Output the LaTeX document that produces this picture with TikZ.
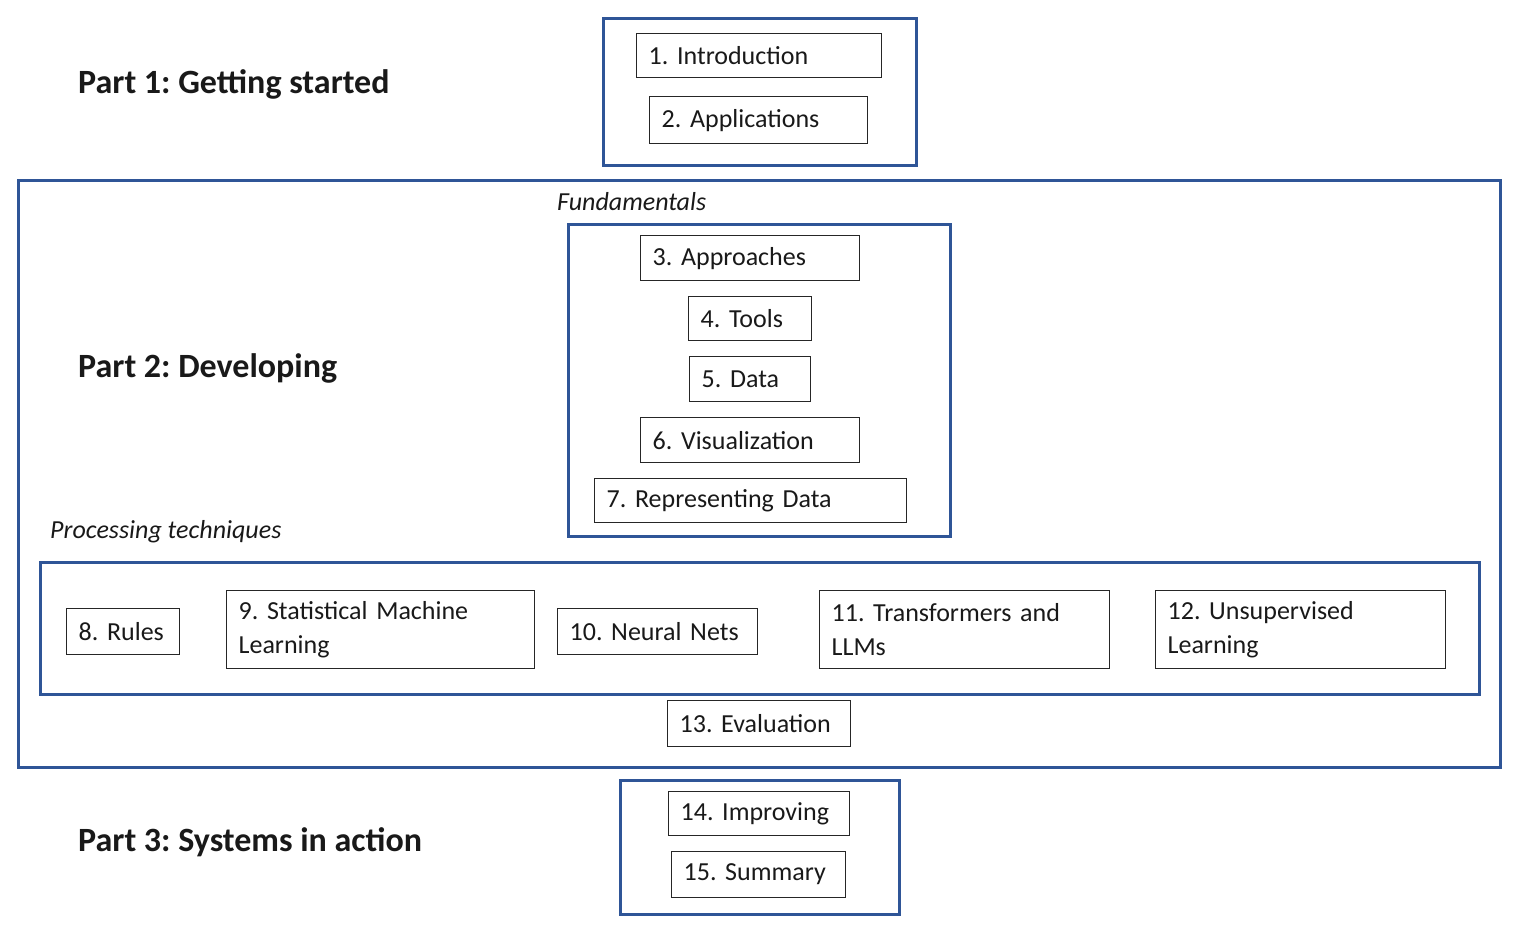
\documentclass[tikz,border=0pt]{standalone}
\usepackage{fontspec}
\setmainfont{Carlito}
\frenchspacing
\definecolor{partblue}{RGB}{47,85,151}
\definecolor{txt}{RGB}{25,25,25}
\begin{document}
\begin{tikzpicture}[x=1pt,y=-1pt,
  container/.style={draw=partblue, line width=3pt, anchor=north west, inner sep=0pt},
  chap/.style={draw=black!85, line width=1.3pt, anchor=north west, inner xsep=12pt, inner ysep=0pt, align=left, text=txt, font=\frenchspacing\fontsize{26}{34}\selectfont},
  partlabel/.style={anchor=west, inner sep=0pt, text=txt, font=\frenchspacing\fontsize{34}{40}\selectfont\bfseries},
  grouplabel/.style={anchor=west, inner sep=0pt, text=txt, font=\fontsize{26}{32}\selectfont\itshape}]
\useasboundingbox (0,0) rectangle (1515,928);
% containers
\node[container, minimum width=313pt, minimum height=147pt] (p1) at (602,17) {};
\node[container, minimum width=1482pt, minimum height=587pt] (p2) at (17,179) {};
\node[container, minimum width=382pt, minimum height=312pt] (fund) at (567,223) {};
\node[container, minimum width=1439pt, minimum height=132pt] (proc) at (39,561) {};
\node[container, minimum width=279pt, minimum height=134pt] (p3) at (619,779) {};
% labels
\node[partlabel] (l1) at (78,84) {Part 1: Getting started};
\node[partlabel] (l2) at (78,368) {Part 2: Developing};
\node[partlabel] (l3) at (78,842) {Part 3: Systems in action};
\node[grouplabel] (gf) at (557,202) {Fundamentals};
\node[grouplabel] (gp) at (50,532) {Processing techniques};
% chapters
\node[chap, text width=221pt, minimum height=44pt] (c1) at (636,33) {1. Introduction};
\node[chap, text width=194pt, minimum height=47pt] (c2) at (649,96) {2. Applications};
\node[chap, text width=195pt, minimum height=45pt] (c3) at (640,235) {3. Approaches};
\node[chap, text width=99pt, minimum height=44pt] (c4) at (688,296) {4. Tools};
\node[chap, text width=97pt, minimum height=45pt] (c5) at (689,356) {5. Data};
\node[chap, text width=195pt, minimum height=45pt] (c6) at (640,417) {6. Visualization};
\node[chap, text width=288pt, minimum height=44pt] (c7) at (594,478) {7. Representing Data};
\node[chap, text width=89pt, minimum height=46pt] (c8) at (66,608) {8.~Rules};
\node[chap, text width=284pt, minimum height=78pt] (c9) at (226,590) {9. Statistical Machine\\Learning};
\node[chap, text width=176pt, minimum height=46pt] (c10) at (557,608) {10. Neural Nets};
\node[chap, text width=266pt, minimum height=78pt] (c11) at (819,590) {11. Transformers and\\LLMs};
\node[chap, text width=266pt, minimum height=78pt] (c12) at (1155,590) {12. Unsupervised\\Learning};
\node[chap, text width=159pt, minimum height=46pt] (c13) at (667,700) {13. Evaluation};
\node[chap, text width=157pt, minimum height=44pt] (c14) at (668,791) {14. Improving};
\node[chap, text width=150pt, minimum height=46pt] (c15) at (671,851) {15. Summary};
\end{tikzpicture}
\end{document}
